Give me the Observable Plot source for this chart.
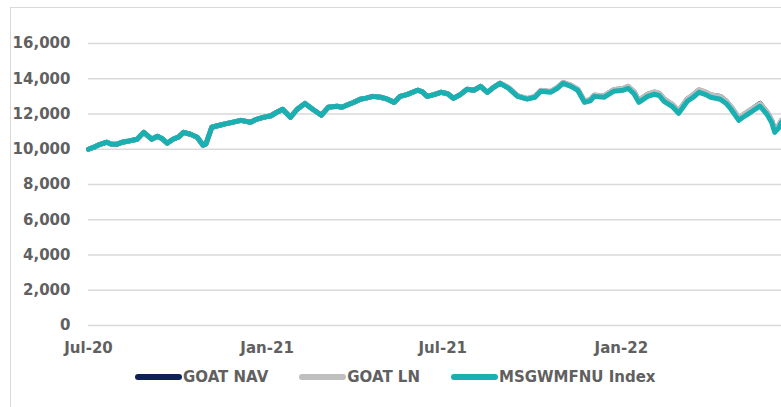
<!DOCTYPE html>
<html>
<head>
<meta charset="utf-8">
<script src="https://cdn.jsdelivr.net/npm/d3@7"></script>
<script src="https://cdn.jsdelivr.net/npm/@observablehq/plot@0.6"></script>
<style>
  html, body { margin: 0; padding: 0; background: #fff; }
  body { width: 781px; height: 407px; position: relative; overflow: hidden; font-family: "DejaVu Sans", sans-serif; }
  #frame { position: absolute; left: 10px; top: 7px; width: 800px; height: 420px; border-left: 1px solid #d9d9d9; border-top: 1px solid #d9d9d9; }
  #chart { position: absolute; left: 0; top: 0; }
  #legend { position: absolute; top: 368px; left: 135px; display: flex; gap: 31px; align-items: center; font-size: 15px; font-weight: bold; color: #606060; }
  .item { display: flex; align-items: center; white-space: nowrap; }
  .sw { width: 47px; height: 6px; border-radius: 3px; margin-right: 1px; }
</style>
</head>
<body>
<div id="frame"></div>
<div id="chart"></div>
<div id="legend"></div>
<script>
const dates = [
"2020-07-01","2020-07-08","2020-07-13","2020-07-20","2020-07-24","2020-07-30","2020-08-05","2020-08-10","2020-08-20","2020-08-27",
"2020-09-04","2020-09-10","2020-09-15","2020-09-20","2020-09-26","2020-10-02","2020-10-07","2020-10-14","2020-10-21","2020-10-27",
"2020-10-30","2020-11-05","2020-11-12","2020-11-21","2020-11-28","2020-12-05","2020-12-15","2020-12-21","2020-12-28","2021-01-05",
"2021-01-11","2021-01-17","2021-01-25","2021-02-01","2021-02-09","2021-02-17","2021-02-26","2021-03-05","2021-03-14","2021-03-19",
"2021-03-24","2021-03-31","2021-04-07","2021-04-13","2021-04-20","2021-04-28","2021-05-05","2021-05-12","2021-05-18","2021-05-25",
"2021-06-05","2021-06-10","2021-06-15","2021-06-22","2021-06-29","2021-07-06","2021-07-12","2021-07-19","2021-07-26","2021-08-02",
"2021-08-09","2021-08-16","2021-08-22","2021-08-29",
"2021-09-07","2021-09-16","2021-09-26","2021-10-04","2021-10-10","2021-10-20","2021-10-27","2021-11-02","2021-11-10","2021-11-17",
"2021-11-24","2021-11-30","2021-12-04","2021-12-14","2021-12-24","2022-01-03","2022-01-08","2022-01-14","2022-01-19","2022-01-28",
"2022-02-04","2022-02-09","2022-02-14","2022-02-23","2022-03-01","2022-03-10","2022-03-16","2022-03-22","2022-03-29","2022-04-03",
"2022-04-13","2022-04-19","2022-04-24","2022-05-02","2022-05-06","2022-05-11","2022-05-17","2022-05-24","2022-05-31","2022-06-05",
"2022-06-08","2022-06-12","2022-06-15"
];
const msgwmfnuIndex = [
10000,10150,10280,10400,10300,10280,10400,10450,10570,10960,
10570,10740,10600,10340,10570,10700,10960,10850,10680,10230,
10300,11250,11350,11470,11550,11640,11530,11700,11810,11900,
12100,12270,11810,12270,12600,12270,11930,12380,12440,12380,
12500,12650,12840,12900,13000,12950,12840,12660,13000,13100,
13350,13250,13000,13100,13230,13150,12890,13100,13400,13350,
13570,13230,13500,13740,
13450,13000,12840,12950,13290,13230,13450,13740,13570,13350,
12660,12750,13000,12950,13290,13350,13450,13150,12660,13000,
13120,13050,12720,12400,12040,12720,12950,13230,13100,12950,
12840,12600,12270,11640,11800,11980,12200,12440,11980,11500,
10960,11200,11530
];
const goatLN = [
10000,10150,10280,10400,10300,10280,10400,10450,10570,10960,
10570,10740,10600,10340,10570,10700,10960,10850,10680,10230,
10300,11250,11350,11470,11550,11640,11530,11700,11810,11900,
12100,12270,11810,12270,12600,12270,11930,12380,12440,12380,
12500,12650,12840,12900,13000,12950,12840,12660,13000,13100,
13350,13250,13000,13100,13230,13150,12890,13100,13400,13350,
13570,13230,13500,13760,
13500,13050,12890,13010,13350,13290,13510,13800,13640,13420,
12740,12830,13080,13040,13390,13460,13580,13280,12790,13130,
13260,13190,12860,12540,12180,12870,13100,13380,13250,13100,
12990,12750,12420,11790,11950,12130,12350,12590,12130,11640,
11100,11340,11660
];
const goatNAV = [
10000,10150,10280,10400,10300,10280,10400,10450,10570,10960,
10570,10740,10600,10340,10570,10700,10960,10850,10680,10230,
10300,11250,11350,11470,11550,11640,11530,11700,11810,11900,
12100,12270,11810,12270,12600,12270,11930,12380,12440,12380,
12500,12650,12840,12900,13000,12950,12840,12660,13000,13100,
13350,13250,13000,13100,13230,13150,12890,13100,13400,13350,
13570,13230,13500,13750,
13480,13030,12870,12990,13330,13270,13490,13780,13620,13400,
12720,12810,13060,13020,13370,13440,13560,13260,12770,13110,
13240,13170,12840,12520,12160,12850,13080,13360,13230,13080,
12990,12740,12400,11770,11930,12110,12340,12600,12110,11620,
11080,11320,11640
];
const seriesNames = ["GOAT NAV", "GOAT LN", "MSGWMFNU Index"];
const seriesColors = ["#0E2157", "#BFBFBF", "#19B0B2"];
const yTicks = [0, 2000, 4000, 6000, 8000, 10000, 12000, 14000, 16000];
const xTickDates = ["2020-07-01", "2021-01-01", "2021-07-01", "2022-01-01"];
const xTickLabels = ["Jul-20", "Jan-21", "Jul-21", "Jan-22"];
const xDomain = ["2020-07-01", "2022-06-15"];

const seriesValues = [goatNAV, goatLN, msgwmfnuIndex];
const rows = [];
seriesNames.forEach((name, s) => {
  dates.forEach((d, i) => rows.push({ series: name, date: new Date(d), value: seriesValues[s][i] }));
});

const tickDateObjs = xTickDates.map(d => new Date(d));
const chart = Plot.plot({
  width: 781,
  height: 365,
  marginLeft: 88,
  marginRight: 0,
  marginTop: 43,
  marginBottom: 40,
  style: { fontFamily: "DejaVu Sans, sans-serif", fontSize: "15px", fontWeight: "bold", color: "#606060", background: "transparent", overflow: "visible" },
  x: {
    type: "utc",
    domain: xDomain.map(d => new Date(d)),
    ticks: tickDateObjs,
    tickFormat: d => xTickLabels[tickDateObjs.findIndex(t => +t === +d)],
    tickSize: 0,
    tickPadding: 17,
    label: null
  },
  y: {
    domain: [0, 16000],
    ticks: yTicks,
    tickFormat: d3.format(","),
    tickSize: 0,
    tickPadding: 18,
    label: null
  },
  color: { domain: seriesNames, range: seriesColors },
  marks: [
    Plot.ruleY(yTicks, { stroke: "#d9d9d9", strokeWidth: 1.3 }),
    ...seriesNames.map(name =>
      Plot.line(rows.filter(r => r.series === name), {
        x: "date", y: "value", stroke: "series", strokeWidth: 5, strokeLinejoin: "round", strokeLinecap: "round"
      })
    )
  ]
});
document.getElementById("chart").appendChild(chart);

const legend = document.getElementById("legend");
seriesNames.forEach((name, i) => {
  const it = document.createElement("div");
  it.className = "item";
  const sw = document.createElement("span");
  sw.className = "sw";
  sw.style.background = seriesColors[i];
  const tx = document.createElement("span");
  tx.textContent = name;
  it.appendChild(sw);
  it.appendChild(tx);
  legend.appendChild(it);
});
</script>
</body>
</html>
